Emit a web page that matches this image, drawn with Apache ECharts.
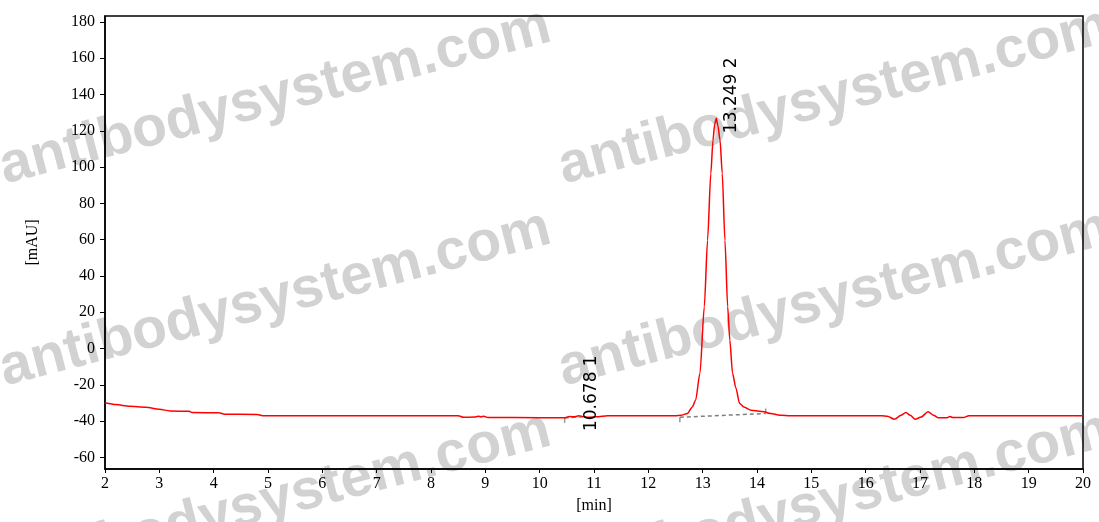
<!DOCTYPE html>
<html>
<head>
<meta charset="utf-8">
<script src="https://cdn.jsdelivr.net/npm/echarts@6/dist/echarts.min.js"></script>
<style>
html,body{margin:0;padding:0;background:#fff;}
#chart{width:1099px;height:522px;}
</style>
</head>
<body>
<div id="chart"></div>
<script>
// Chromatogram trace
const times = [2.0,2.2,2.45,2.75,3.0,3.2,3.55,3.6,4.1,4.2,4.8,4.9,6.0,7.0,8.0,8.5,8.6,8.8,8.87,8.92,8.97,9.05,10.0,10.45,10.55,10.65,10.72,10.8,10.9,11.05,11.25,12.0,12.5,12.6,12.72,12.81,12.87,12.95,13.03,13.09,13.15,13.19,13.22,13.25,13.28,13.32,13.36,13.41,13.46,13.5,13.55,13.61,13.68,13.76,13.89,14.13,14.25,14.45,14.6,16.3,16.4,16.53,16.65,16.74,16.82,16.91,17.02,17.15,17.25,17.33,17.5,17.55,17.6,17.8,17.9,20.0];
const signal = [-29.9,-30.9,-31.8,-32.3,-33.5,-34.4,-34.6,-35.3,-35.4,-36.2,-36.3,-37.0,-37.0,-37.0,-37.0,-37.0,-37.9,-37.8,-37.3,-37.7,-37.3,-38.0,-38.1,-38.2,-37.5,-37.6,-37.0,-37.5,-37.9,-37.6,-37.0,-37.0,-37.0,-36.8,-35.8,-32.2,-28.5,-13.6,23,59.7,96.6,114.8,123.5,127,123,114.8,96.6,59.7,23,4.6,-13.6,-21.6,-30.3,-32.2,-34.0,-34.9,-35.8,-36.8,-37.0,-37.0,-37.3,-39.0,-36.8,-35.3,-36.8,-39.0,-37.8,-34.8,-36.8,-38.1,-38.1,-37.5,-38.0,-38.0,-37.0,-37.0];

// Integration baselines (start/end of each peak)
const base1T = [10.46, 10.85];
const base1V = [-38.2, -37.6];
const base2T = [12.58, 14.16];
const base2V = [-37.9, -35.8];

// Peak annotations
const peakTimes = [10.678, 13.249];
const peakValues = [-37.2, 127];
const peakLabels = ['10.678 1', '13.249 2'];

// Axis ticks
const xMin = 2, xMax = 20, xStep = 1;
const yTicks = [-60,-40,-20,0,20,40,60,80,100,120,140,160,180];
const yMin = -66.4, yMax = 183.3;

const trace = times.map((t, i) => [t, signal[i]]);
const base1 = base1T.map((t, i) => [t, base1V[i]]);
const base2 = base2T.map((t, i) => [t, base2V[i]]);
const tickMarks = [
  {value: [base1T[0], base1V[0]], symbolOffset: [0, 2.5]},
  {value: [base2T[0], base2V[0]], symbolOffset: [0, 2.5]},
  {value: [base2T[1], base2V[1]], symbolOffset: [0, -2.5]}
];

const serif = '"Liberation Serif","Times New Roman",serif';
const chart = echarts.init(document.getElementById('chart'));

// watermark
const wm = [];
const wmRows = [168.6, 370.6, 572.6];
const wmCols = [0.9, 559.9];
wmRows.forEach(y => wmCols.forEach(x => {
  wm.push({
    type: 'text', x: x, y: y, rotation: 0.255, z: -1, silent: true,
    style: {text: 'antibodysystem.com', fill: '#d2d2d2', font: 'bold 57px "Liberation Sans", Arial, sans-serif', align: 'left', verticalAlign: 'middle'}
  });
}));

chart.setOption({
  animation: false,
  grid: {left: 105, right: 16, top: 16, bottom: 53, show: true, borderColor: '#000', borderWidth: 1.5, backgroundColor: 'transparent'},
  xAxis: {
    type: 'value', min: xMin, max: xMax, interval: xStep,
    name: '[min]', nameLocation: 'middle', nameGap: 29,
    nameTextStyle: {fontFamily: serif, fontSize: 16, color: '#000'},
    axisLine: {show: true, onZero: false, lineStyle: {color: '#000', width: 1.5}},
    axisTick: {show: true, length: 4, lineStyle: {color: '#000'}},
    axisLabel: {fontFamily: serif, fontSize: 16, color: '#000', margin: 7},
    splitLine: {show: false}
  },
  yAxis: {
    type: 'value', min: yMin, max: yMax,
    name: '[mAU]', nameLocation: 'middle', nameGap: 64,
    nameTextStyle: {fontFamily: serif, fontSize: 16, color: '#000'},
    axisLine: {show: true, onZero: false, lineStyle: {color: '#000', width: 1.5}},
    axisTick: {show: true, length: 5, customValues: yTicks, lineStyle: {color: '#000'}},
    axisLabel: {fontFamily: serif, fontSize: 16, color: '#000', margin: 10, customValues: yTicks},
    splitLine: {show: false}
  },
  graphic: wm,
  series: [
    {type: 'line', data: base1, symbol: 'none', z: 3, lineStyle: {color: '#7f7f7f', width: 1.5, type: [4, 3]}},
    {type: 'line', data: base2, symbol: 'none', z: 3, lineStyle: {color: '#7f7f7f', width: 1.5, type: [4, 3]}},
    {type: 'scatter', data: tickMarks, symbol: 'rect', symbolSize: [1.5, 5], z: 3, itemStyle: {color: '#7f7f7f'}},
    {type: 'line', data: trace, symbol: 'none', z: 4, smooth: 0.25, smoothMonotone: 'x', lineStyle: {color: '#ff0000', width: 1.5}}
  ]
});

// peak labels placed from the data points
const labels = peakTimes.map((t, i) => {
  const p = chart.convertToPixel({gridIndex: 0}, [t, peakValues[i]]);
  return {
    type: 'text', x: p[0] + 15, y: p[1] + 15, rotation: Math.PI / 2, z: 100,
    style: {text: peakLabels[i], fill: '#000', font: '17px "DejaVu Sans", Verdana, sans-serif', align: 'left', verticalAlign: 'middle'}
  };
});
chart.setOption({graphic: wm.concat(labels)});
</script>
</body>
</html>
